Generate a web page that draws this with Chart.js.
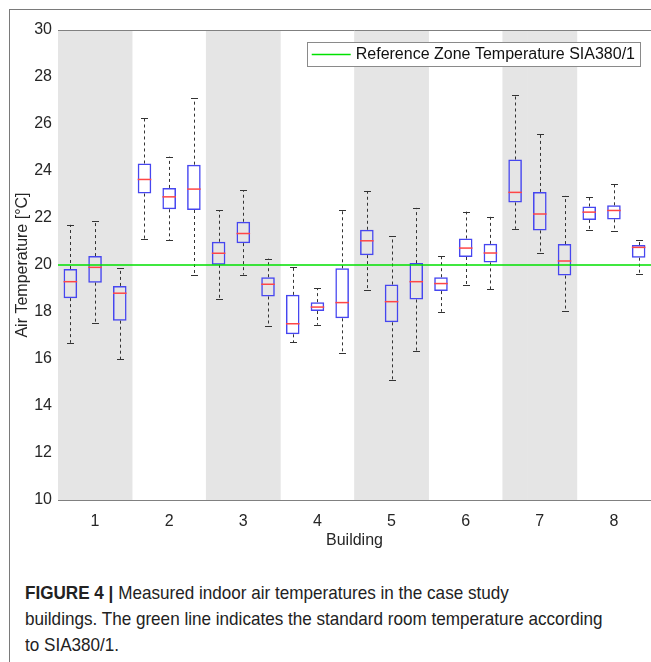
<!DOCTYPE html>
<html>
<head>
<meta charset="utf-8">
<script src="https://cdn.jsdelivr.net/npm/chart.js@4.4.1/dist/chart.umd.min.js"></script>
<style>
  html, body { margin: 0; padding: 0; background: #fff; overflow: hidden; }
  body { width: 651px; height: 662px; position: relative; }
  #frame { position: absolute; left: 9px; top: 9px; width: 700px; height: 700px; border: 1px solid #7a7a7a; }
  #wrap { position: absolute; left: 0; top: 0; width: 651px; height: 550px; }
  #caption {
    position: absolute; left: 25px; top: 580px; width: 800px;
    font-family: "Liberation Sans", Arial, sans-serif;
    font-size: 19px; line-height: 26px; color: #222;
    white-space: nowrap;
    transform: scaleX(0.9); transform-origin: 0 0;
  }
  #caption b { font-weight: bold; }
</style>
</head>
<body>
<div id="frame"></div>
<div id="wrap"><canvas id="chart" width="651" height="550"></canvas></div>
<div id="caption"><b>FIGURE 4 |</b> Measured indoor air temperatures in the case study<br>buildings. The green line indicates the standard room temperature according<br>to SIA380/1.</div>
<script>
// buildings and the three measured zones per building
const buildings = ['1', '2', '3', '4', '5', '6', '7', '8'];
const zonesPerBuilding = 3;

// box plot statistics per measured zone (°C), left to right
const whiskerLow = [16.69, 17.54, 15.99, 21.10, 21.06, 19.59, 18.56, 19.59, 17.40, 16.72, 17.46, 16.27,
                    18.95, 15.11, 16.34, 18.01, 19.15, 18.97, 21.54, 20.50, 18.04, 21.47, 21.43, 19.61];
const quart1     = [18.59, 19.25, 17.63, 23.04, 22.37, 22.34, 20.01, 20.93, 18.66, 17.05, 18.04, 17.73,
                    20.42, 17.56, 18.53, 18.89, 20.34, 20.11, 22.66, 21.47, 19.55, 21.92, 21.94, 20.31];
const medians    = [19.29, 19.90, 18.80, 23.64, 22.90, 23.23, 20.50, 21.34, 19.18, 17.50, 18.21, 18.40,
                    21.03, 18.44, 19.29, 19.21, 20.72, 20.51, 23.09, 22.17, 20.17, 22.25, 22.32, 20.75];
const quart3     = [19.83, 20.38, 19.11, 24.32, 23.28, 24.27, 20.99, 21.84, 19.48, 18.73, 18.42, 19.86,
                    21.50, 19.17, 20.08, 19.48, 21.13, 20.90, 24.49, 23.11, 20.89, 22.49, 22.54, 20.85];
const whiskerHigh= [21.71, 21.88, 19.86, 26.24, 24.61, 27.09, 22.34, 23.18, 20.27, 19.92, 19.01, 22.34,
                    23.15, 21.23, 22.43, 20.37, 22.27, 22.06, 27.22, 25.58, 22.94, 22.88, 23.45, 21.06];

const refTemp = 20;
const refLabel = 'Reference Zone Temperature SIA380/1';
const yTicks = { min: 10, max: 30, step: 2 };

const slots = medians.map((_, i) => i + 1);
const nSlots = buildings.length * zonesPerBuilding;

// grey band behind every other building
const bandData = slots
  .filter(s => Math.floor((s - 1) / zonesPerBuilding) % 2 === 0)
  .map(s => ({ x: s, y: [yTicks.min, yTicks.max] }));

const boxData = slots.map((s, i) => ({ x: s, y: [quart1[i], quart3[i]] }));

const fontFamily = '"Liberation Sans", Arial, sans-serif';
const tickFont = { family: fontFamily, size: 16 };
const textColor = '#262626';
const axisColor = '#808080';

const boxExtras = {
  id: 'boxExtras',
  afterDatasetDraw(chart, args) {
    if (args.index !== 1) return;
    const { ctx } = chart;
    const y = chart.scales.y;
    const meta = chart.getDatasetMeta(1);
    ctx.save();
    meta.data.forEach((bar, i) => {
      const cx = Math.round(bar.x) + 0.5;
      const half = bar.width / 2;
      // whiskers
      ctx.strokeStyle = '#333';
      ctx.lineWidth = 1;
      ctx.setLineDash([3, 3]);
      ctx.beginPath();
      ctx.moveTo(cx, y.getPixelForValue(quart3[i]));
      ctx.lineTo(cx, y.getPixelForValue(whiskerHigh[i]));
      ctx.moveTo(cx, y.getPixelForValue(quart1[i]));
      ctx.lineTo(cx, y.getPixelForValue(whiskerLow[i]));
      ctx.stroke();
      ctx.setLineDash([]);
      // caps
      ctx.beginPath();
      const hi = Math.round(y.getPixelForValue(whiskerHigh[i])) + 0.5;
      const lo = Math.round(y.getPixelForValue(whiskerLow[i])) + 0.5;
      ctx.moveTo(cx - 3.5, hi); ctx.lineTo(cx + 3.5, hi);
      ctx.moveTo(cx - 3.5, lo); ctx.lineTo(cx + 3.5, lo);
      ctx.stroke();
      // median
      ctx.strokeStyle = 'rgb(255,70,70)';
      ctx.lineWidth = 1.5;
      ctx.beginPath();
      const my = y.getPixelForValue(medians[i]);
      ctx.moveTo(bar.x - half, my); ctx.lineTo(bar.x + half, my);
      ctx.stroke();
    });
    ctx.restore();
  },
  afterDraw(chart) {
    const { ctx, chartArea } = chart;
    ctx.save();
    // top border of the plot box
    ctx.strokeStyle = axisColor;
    ctx.lineWidth = 1;
    ctx.beginPath();
    ctx.moveTo(chartArea.left, chartArea.top + 0.5);
    ctx.lineTo(chartArea.right, chartArea.top + 0.5);
    ctx.stroke();
    // legend box
    const ds = chart.data.datasets[2];
    ctx.font = '16px ' + fontFamily;
    const tw = ctx.measureText(ds.label).width;
    const w = 5 + 39 + 5 + tw + 5;
    const h = 24;
    const right = chartArea.right - 11;
    const left = right - w;
    const top = chartArea.top + 12;
    ctx.fillStyle = '#fff';
    ctx.fillRect(left, top, w, h);
    ctx.strokeStyle = '#8a8a8a';
    ctx.strokeRect(Math.round(left) + 0.5, top + 0.5, Math.round(w), h);
    ctx.strokeStyle = ds.borderColor;
    ctx.lineWidth = 1.5;
    ctx.beginPath();
    ctx.moveTo(left + 5, top + h / 2 + 0.5);
    ctx.lineTo(left + 44, top + h / 2 + 0.5);
    ctx.stroke();
    ctx.fillStyle = '#111';
    ctx.textBaseline = 'middle';
    ctx.fillText(ds.label, left + 49, top + h / 2 + 1);
    ctx.restore();
  }
};

new Chart(document.getElementById('chart'), {
  type: 'bar',
  data: {
    datasets: [
      {
        label: 'band',
        data: bandData,
        backgroundColor: '#e5e5e5',
        borderWidth: 0,
        barPercentage: 1,
        categoryPercentage: 1,
        grouped: false,
        order: 3
      },
      {
        label: 'zones',
        data: boxData,
        backgroundColor: 'rgba(0,0,0,0)',
        borderColor: 'rgb(70,70,240)',
        borderWidth: 1.5,
        borderSkipped: false,
        barPercentage: 0.55,
        categoryPercentage: 1,
        grouped: false,
        order: 2
      },
      {
        type: 'line',
        label: refLabel,
        data: [{ x: 0.5, y: refTemp }, { x: nSlots + 0.5, y: refTemp }],
        borderColor: 'rgb(0,225,0)',
        borderWidth: 1.5,
        pointRadius: 0,
        order: 1
      }
    ]
  },
  options: {
    responsive: false,
    animation: false,
    layout: { padding: { top: 30, left: 0, right: 0, bottom: 0 } },
    plugins: { legend: { display: false }, tooltip: { enabled: false } },
    scales: {
      x: {
        type: 'linear',
        min: 0.5,
        max: nSlots + 0.5,
        offset: false,
        grid: { display: false, drawTicks: false },
        border: { color: axisColor },
        afterBuildTicks: s => {
          s.ticks = buildings.map((b, i) => ({ value: i * zonesPerBuilding + 2 }));
        },
        ticks: {
          callback: (v, i) => buildings[i],
          font: tickFont,
          color: textColor,
          padding: 12,
          maxRotation: 0
        },
        title: { display: true, text: 'Building', font: tickFont, color: textColor, padding: 0 },
        afterFit: s => { s.height = 50; }
      },
      y: {
        min: yTicks.min,
        max: yTicks.max,
        grid: { display: false, drawTicks: false },
        border: { color: axisColor },
        ticks: { stepSize: yTicks.step, font: tickFont, color: textColor, padding: 6 },
        title: { display: true, text: 'Air Temperature [°C]', font: tickFont, color: textColor, padding: { top: 13, bottom: 0 } },
        afterFit: s => { s.width = 58; }
      }
    }
  },
  plugins: [boxExtras]
});
</script>
</body>
</html>
